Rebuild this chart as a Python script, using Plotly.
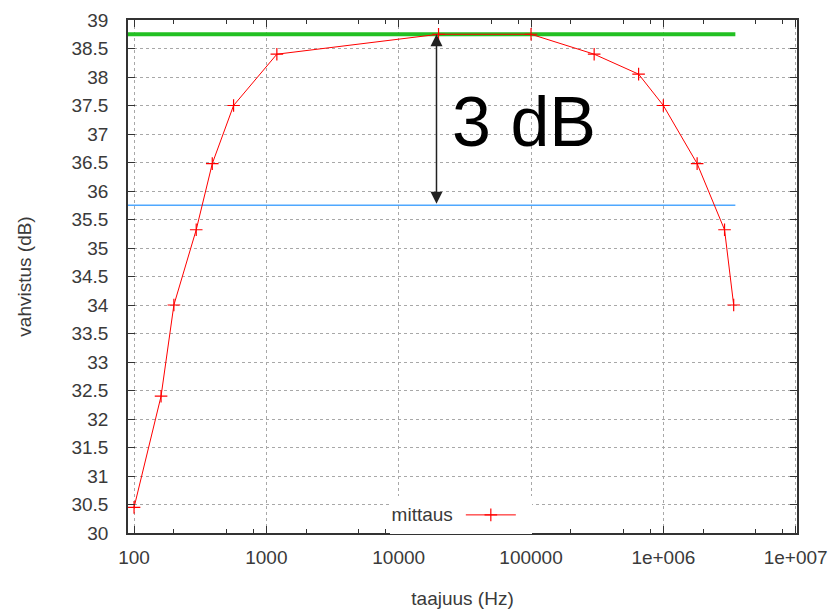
import numpy as np
import plotly.graph_objects as go

# ---- data ----
freq_hz = [100, 160, 200, 295, 390, 565, 1200, 20000, 100000, 300000, 650000,
           1000000, 1800000, 2900000, 3400000]
gain_db = [30.45, 32.4, 34.0, 35.32, 36.48, 37.5, 38.4, 38.75, 38.75, 38.4, 38.05,
           37.5, 36.48, 35.32, 34.0]
series_name = "mittaus"

peak_db = 38.75
minus3_db = 35.75
line_x = [90, 3500000]
arrow_x = 19300
label_text = "3 dB"

x_tickvals = [100, 1000, 10000, 100000, 1000000, 10000000]
x_ticktext = ["100", "1000", "10000", "100000", "1e+006", "1e+007"]
x_minor_vals = [m * d for d in [100, 1000, 10000, 100000, 1000000] for m in (2, 5, 8)]
y_tickvals = [30 + 0.5 * i for i in range(19)]
y_ticktext = [("%g" % v) for v in y_tickvals]

FONT = "Liberation Sans, Arial, sans-serif"
TXT = "#3a3a3a"

fig = go.Figure()
fig.add_trace(go.Scatter(x=line_x, y=[peak_db, peak_db], mode="lines",
                         line=dict(color="#22c022", width=4), showlegend=False,
                         hoverinfo="skip"))
fig.add_trace(go.Scatter(x=line_x, y=[minus3_db, minus3_db], mode="lines",
                         line=dict(color="#4fa8ff", width=1.5), showlegend=False,
                         hoverinfo="skip"))
fig.add_trace(go.Scatter(x=freq_hz, y=gain_db, mode="lines+markers", name=" ",
                         line=dict(color="#ff0000", width=1),
                         marker=dict(symbol="cross-thin", size=9,
                                     line=dict(color="#ff0000", width=1.2))))

fig.add_annotation(x=np.log10(arrow_x), y=peak_db, ax=np.log10(arrow_x), ay=minus3_db,
                   xref="x", yref="y", axref="x", ayref="y", text="",
                   showarrow=True, arrowhead=2, startarrowhead=2, arrowside="end+start",
                   arrowsize=1.6, arrowwidth=1.5, arrowcolor="#222222",
                   startstandoff=0, standoff=0)
fig.add_annotation(x=np.log10(arrow_x) + 0.10, y=37.21, xref="x", yref="y",
                   text=label_text, showarrow=False, xanchor="left", yanchor="middle",
                   font=dict(family=FONT, size=70, color="black"))

axis_common = dict(showline=True, linecolor="#333333", linewidth=1.5, mirror="allticks",
                   ticks="inside", ticklen=7, tickcolor="#333333", tickwidth=1,
                   showgrid=True, gridcolor="#a8a8a8", griddash="dot", gridwidth=1,
                   zeroline=False, automargin=False,
                   tickfont=dict(family=FONT, size=19, color=TXT))

fig.update_xaxes(type="log", range=[np.log10(90), 7.01], tickmode="array",
                 tickvals=x_tickvals, ticktext=x_ticktext,
                 minor=dict(tickmode="array", tickvals=x_minor_vals, ticks="inside",
                            ticklen=4, tickcolor="#333333", showgrid=False),
                 title=dict(text="taajuus (Hz)", font=dict(family=FONT, size=19, color=TXT),
                            standoff=25),
                 ticklabelstandoff=6,
                 **axis_common)
fig.update_yaxes(range=[30, 39], tickmode="array", tickvals=y_tickvals, ticktext=y_ticktext,
                 title=dict(text="vahvistus (dB)", font=dict(family=FONT, size=19, color=TXT),
                            standoff=35),
                 ticklabelstandoff=14,
                 **axis_common)

fig.update_layout(width=832, height=610, margin=dict(l=128, r=35, t=20, b=77),
                  paper_bgcolor="white", plot_bgcolor="white",
                  showlegend=True,
                  legend=dict(orientation="h", x=0.391, y=-0.002, xanchor="left",
                              yanchor="bottom", bgcolor="white", borderwidth=0,
                              title=dict(text=series_name, side="left",
                                         font=dict(family=FONT, size=19, color=TXT)),
                              font=dict(family=FONT, size=19, color=TXT),
                              itemwidth=50))

fig.write_html("out.html")
